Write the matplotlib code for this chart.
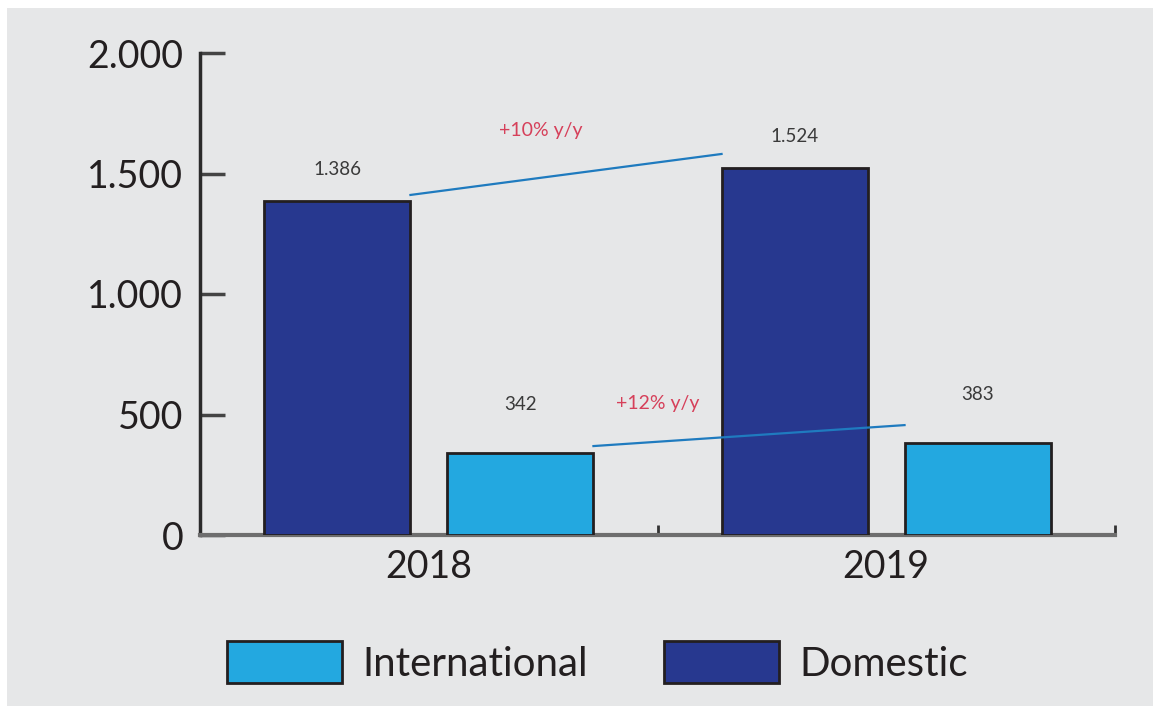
import matplotlib
matplotlib.use("Agg")
import matplotlib.pyplot as plt
import numpy as np
from matplotlib.patches import Rectangle

years = ["2018", "2019"]
domestic = [1386, 1524]
international = [342, 383]
domestic_labels = ["1.386", "1.524"]
international_labels = ["342", "383"]
growth_labels = ["+10% y/y", "+12% y/y"]
yticks = [0, 500, 1000, 1500, 2000]
ytick_labels = ["0", "500", "1.000", "1.500", "2.000"]

bg = "#e6e7e8"
dom_col = "#27388f"
int_col = "#23a8e0"
edge = "#231f20"
txt = "#231f20"

plt.rcParams["font.family"] = ["Lato", "DejaVu Sans"]

fig = plt.figure(figsize=(11.53, 7.06), dpi=100)
fig.patch.set_facecolor("white")
# grey panel (white strip on left and top)
fig.patches.append(Rectangle((7 / 1153, 0), 1, 1 - 8 / 706, transform=fig.transFigure,
                             facecolor=bg, edgecolor="none", zorder=-10))

ax = fig.add_axes([200 / 1153, 1 - 535 / 706, 915 / 1153, 482 / 706])
ax.set_facecolor("none")

x = np.arange(len(years))
w = 0.32
off = 0.2
ax.bar(x - off, domestic, w, color=dom_col, edgecolor=edge, linewidth=2, zorder=3)
ax.bar(x + off, international, w, color=int_col, edgecolor=edge, linewidth=2, zorder=3)

# value labels
for i in range(len(years)):
    ax.text(x[i] - off, domestic[i] + 130, domestic_labels[i], ha="center", va="center",
            fontsize=13.5, color="#3a3a3a")
    ax.text(x[i] + off, international[i] + 200, international_labels[i], ha="center",
            va="center", fontsize=13.5, color="#3a3a3a")

# growth lines from top-right of 2018 bar to above 2019 bar
ax.plot([x[0] - off + w / 2, x[1] - off - w / 2], [domestic[0] + 25, domestic[1] + 57],
        color="#1f7bbf", linewidth=1.6, zorder=4)
ax.plot([x[0] + off + w / 2, x[1] + off - w / 2], [international[0] + 27, international[1] + 73],
        color="#1f7bbf", linewidth=1.6, zorder=4)
ax.text(0.245, 1680, growth_labels[0], ha="center", va="center", fontsize=14, color="#d6405a")
ax.text(0.50, 545, growth_labels[1], ha="center", va="center", fontsize=14, color="#d6405a")

ax.set_xlim(-0.5, 1.5)
ax.set_ylim(0, 2000)
ax.set_yticks(yticks)
ax.set_yticklabels(ytick_labels)
ax.set_xticks(x)
ax.set_xticklabels(years)
ax.set_xticks([0.5, 1.5], minor=True)

for s in ["top", "right"]:
    ax.spines[s].set_visible(False)
ax.spines["left"].set_color("#2b2b2b")
ax.spines["left"].set_linewidth(2.5)
ax.spines["bottom"].set_color("#6e6e6e")
ax.spines["bottom"].set_linewidth(3)

ax.tick_params(axis="y", direction="in", length=18, width=2.5, color="#444444",
               labelsize=27, labelcolor=txt, pad=12)
ax.tick_params(axis="x", which="major", length=0, labelsize=27, labelcolor=txt, pad=10)
ax.tick_params(axis="x", which="minor", direction="in", length=7, width=2, color="#333333")

handles = [Rectangle((0, 0), 1, 1, facecolor=int_col, edgecolor=edge, linewidth=2),
           Rectangle((0, 0), 1, 1, facecolor=dom_col, edgecolor=edge, linewidth=2)]
fig.legend(handles, ["International", "Domestic"], loc="center", ncol=2,
           bbox_to_anchor=(0.518, 0.062), frameon=False, fontsize=29,
           handlelength=2.85, handleheight=1.24, handletextpad=0.5, columnspacing=1.9,
           labelcolor=txt)

fig.savefig("out.png", dpi=100, facecolor=fig.get_facecolor())
